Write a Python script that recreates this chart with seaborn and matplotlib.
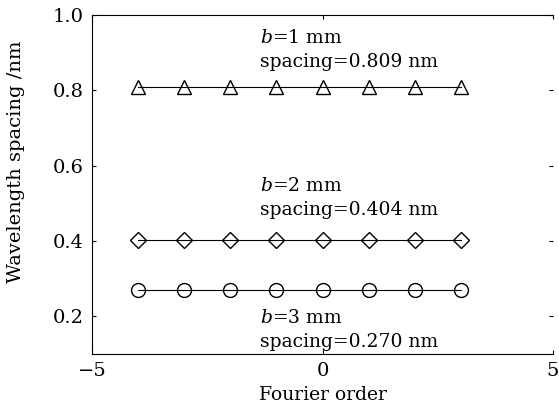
import matplotlib
matplotlib.use("Agg")
import matplotlib.pyplot as plt
import seaborn as sns
import pandas as pd

# Fourier orders and wavelength spacing for each slit width
orders = [-4, -3, -2, -1, 0, 1, 2, 3]
spacing_b1 = [0.809] * 8
spacing_b2 = [0.404] * 8
spacing_b3 = [0.270] * 8
labels = ["$b$=1 mm", "$b$=2 mm", "$b$=3 mm"]
notes = ["spacing=0.809 nm", "spacing=0.404 nm", "spacing=0.270 nm"]

sns.set_style("ticks")
plt.rcParams["font.family"] = ["DejaVu Serif"]
plt.rcParams["mathtext.fontset"] = "dejavuserif"
for key in ["text.color", "axes.labelcolor", "xtick.color", "ytick.color",
            "axes.edgecolor"]:
    plt.rcParams[key] = "black"

fig = plt.figure(figsize=(5.59, 4.08), dpi=100)
ax = fig.add_axes([0.165, 0.132, 0.824, 0.831])

df = pd.DataFrame({"order": orders, "b1": spacing_b1,
                   "b2": spacing_b2, "b3": spacing_b3})

# Plot each series with open markers
for col, mk, ms in [("b1", "^", 10), ("b2", "D", 8), ("b3", "o", 10)]:
    sns.lineplot(data=df, x="order", y=col, ax=ax, color="black",
                 linewidth=0.8, marker=mk, markersize=ms,
                 markerfacecolor="none", markeredgecolor="black",
                 markeredgewidth=1.0)

# Annotations
fs = 13.5
ax.text(-1.35, 0.94, labels[0], fontsize=fs, va="center")
ax.text(-1.35, 0.875, notes[0], fontsize=fs, va="center")
ax.text(-1.35, 0.547, labels[1], fontsize=fs, va="center")
ax.text(-1.35, 0.482, notes[1], fontsize=fs, va="center")
ax.text(-1.35, 0.197, labels[2], fontsize=fs, va="center")
ax.text(-1.35, 0.133, notes[2], fontsize=fs, va="center")

ax.set_xlim(-5, 5)
ax.set_ylim(0.1, 1.0)
ax.set_xticks([-5, 0, 5])
ax.set_yticks([0.2, 0.4, 0.6, 0.8, 1.0])
ax.set_yticklabels(["0.2", "0.4", "0.6", "0.8", "1.0"])
ax.set_xticklabels(["\u22125", "0", "5"])
ax.tick_params(direction="in", top=True, right=True, labelsize=14,
               length=3, width=0.8, pad=6)
ax.spines["right"].set_visible(False)
for s in ["left", "top", "bottom"]:
    ax.spines[s].set_linewidth(0.8)

ax.set_xlabel("Fourier order", fontsize=13.5, labelpad=4)
ax.set_ylabel("Wavelength spacing /nm", fontsize=14)
ax.yaxis.set_label_coords(-0.145, 0.566)

plt.savefig("out.png", dpi=100)
